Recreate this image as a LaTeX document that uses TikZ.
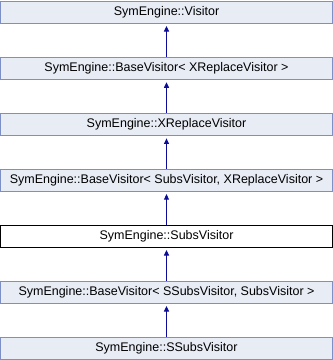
\documentclass[tikz,border=0pt]{standalone}
\usepackage{fontspec}
\setmainfont{Liberation Sans}
\usetikzlibrary{arrows.meta}
\definecolor{boxfill}{HTML}{E8ECF5}
\definecolor{boxline}{HTML}{7C90C6}
\definecolor{edgeblue}{HTML}{0C0C96}
\tikzset{
  cls/.style={draw=boxline, fill=boxfill, line width=1pt, minimum width=332pt,
    minimum height=22.5pt, inner sep=0pt, anchor=north,
    font=\fontsize{12.5pt}{14pt}\selectfont},
  current/.style={cls, draw=black, fill=white},
  inherit/.style={draw=edgeblue, line width=1pt,
    -{Triangle[length=5.5pt,width=5pt]}, shorten >=2pt}
}
\begin{document}
\begin{tikzpicture}[x=1pt,y=-1pt]
\useasboundingbox (0,0) rectangle (333,360);
\node[cls] (visitor) at (166.5,0.5) {SymEngine::Visitor};
\node[cls] (basex) at (166.5,56.8) {SymEngine::BaseVisitor< XReplaceVisitor >};
\node[cls] (xrep) at (166.5,112.9) {SymEngine::XReplaceVisitor};
\node[cls] (basesubs) at (166.5,168.6) {SymEngine::BaseVisitor< SubsVisitor, XReplaceVisitor >};
\node[current] (subs) at (166.5,224.5) {SymEngine::SubsVisitor};
\node[cls] (basessubs) at (166.5,280.5) {SymEngine::BaseVisitor< SSubsVisitor, SubsVisitor >};
\node[cls] (ssubs) at (166.5,336.8) {SymEngine::SSubsVisitor};
\draw[inherit] (basex.north) -- (visitor.south);
\draw[inherit] (xrep.north) -- (basex.south);
\draw[inherit] (basesubs.north) -- (xrep.south);
\draw[inherit] (subs.north) -- (basesubs.south);
\draw[inherit] (basessubs.north) -- (subs.south);
\draw[inherit] (ssubs.north) -- (basessubs.south);
\end{tikzpicture}
\end{document}
